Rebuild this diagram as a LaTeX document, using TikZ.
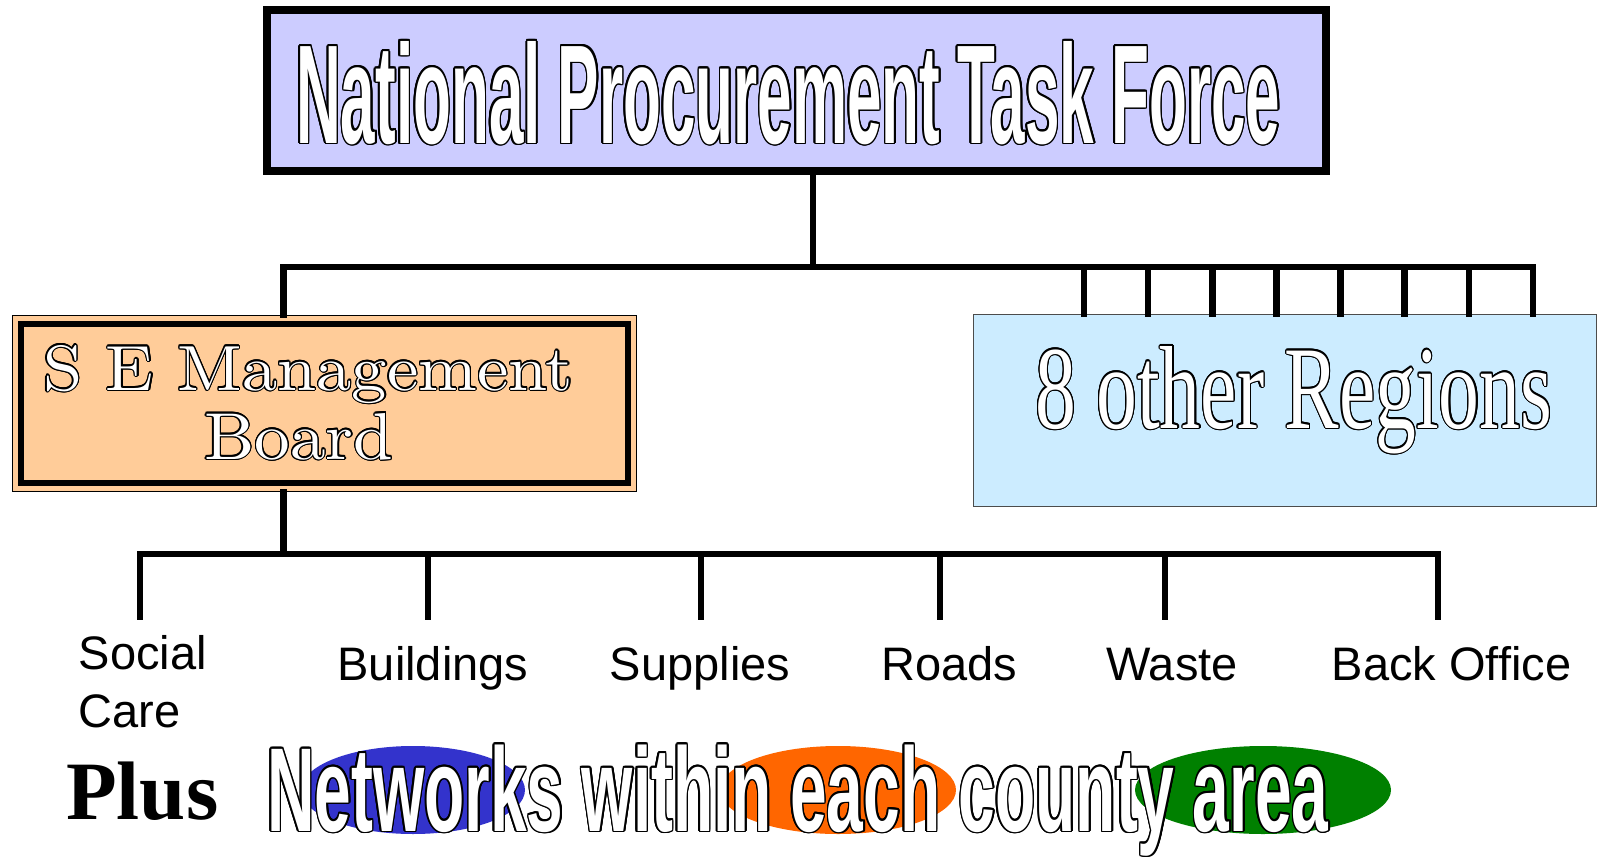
\documentclass[tikz,border=0pt]{standalone}
\usepackage{fontspec}
\usepackage{graphicx}
\usepackage{contour}
\usetikzlibrary{shapes.geometric}
\newfontfamily\arialfont{Liberation Sans}
\newfontfamily\timesfont{Liberation Serif}
\definecolor{boxlilac}{HTML}{CCCCFF}
\definecolor{boxpeach}{HTML}{FFCC99}
\definecolor{boxsky}{HTML}{CCECFF}
\definecolor{ovblue}{HTML}{3333CC}
\definecolor{ovorange}{HTML}{FF6600}
\definecolor{ovgreen}{HTML}{008000}
\newcommand\outlined[2][1.6pt]{{\contourlength{#1}\textcolor{white}{\contour{black}{#2}}}}
\begin{document}
\begin{tikzpicture}[x=1pt,y=-1pt,
   wire/.style={line width=6.5pt,line cap=rect},
   txt/.style={inner sep=0pt,anchor=base west},
   lbl/.style={inner sep=0pt,anchor=base,font=\arialfont\fontsize{47}{58}\selectfont},
   blob/.style={ellipse,inner sep=0pt,minimum width=#1,minimum height=88}]
   \useasboundingbox (0,0) rectangle (1599,859);
   \node[draw,line width=8pt,fill=boxlilac,minimum width=1059,minimum height=161] (NPTF) at (796.5,90.5) {};
   \node[txt] (NPTFtxt) at (296,143) {\outlined{\resizebox{984pt}{102pt}{\arialfont\bfseries National Procurement Task Force}}};
   \node[draw,line width=1.2pt,fill=boxpeach,minimum width=624,minimum height=176] (SEMB) at (324.5,403.5) {};
   \draw[line width=6.5pt] ([shift={(9,9)}]SEMB.north west) rectangle ([shift={(-9,-9)}]SEMB.south east);
   \node[txt] (SEMB1) at (43,390) {\outlined[1.2pt]{\resizebox{530pt}{45pt}{S E Management}}};
   \node[txt] (SEMB2) at (204,459) {\outlined[1.2pt]{\resizebox{189pt}{46pt}{Board}}};
   \node[draw=black!70,line width=1.2pt,fill=boxsky,minimum width=623,minimum height=192] (REG) at (1285,410.5) {};
   \node[txt] (REGtxt) at (1035,428) {\outlined[1.2pt]{\resizebox{517pt}{82pt}{\timesfont 8 other Regions}}};
   \coordinate (T) at (813,267);
   \coordinate (HL) at (283.5,267);
   \coordinate (HR) at (1533,267);
   \draw[wire] (T |- NPTF.south) -- (T);
   \draw[wire] (HL |- SEMB.north) -- (HL) -- (HR);
   \foreach \i in {0,...,7} {
      \coordinate (R\i) at ({1533-64.14*\i},267);
      \draw[wire] (R\i) -- (R\i |- REG.north);
   }
   \coordinate (BL) at (140,554);
   \coordinate (BR) at (1438,554);
   \draw[wire] (HL |- SEMB.south) -- (HL |- BL);
   \draw[wire] (BL) -- (BR);
   \foreach \x/\n in {140/soc,428/bld,701/sup,940/rds,1165/wst,1438/bko} {
      \coordinate (\n) at (\x,617);
      \draw[wire] (\n |- BL) -- (\n);
   }
   \node[lbl,anchor=north west,align=left] (SOC) at (78.5,635) {Social\\Care};
   \node[lbl] (BLD) at (433,680) {Buildings};
   \node[lbl] (SUP) at (700,680) {Supplies};
   \node[lbl] (RDS) at (949,680) {Roads};
   \node[lbl] (WST) at (1172,680) {Waste};
   \node[lbl] (BKO) at (1451.5,680) {Back Office};
   \node[txt,font=\timesfont\bfseries\fontsize{83}{90}\selectfont] (PLUS) at (66,819) {Plus};
   \node[blob=224,fill=ovblue] (OV1) at (413,790) {};
   \node[blob=236,fill=ovorange] (OV2) at (838,790) {};
   \node[blob=256,fill=ovgreen] (OV3) at (1263,790) {};
   \node[txt] (NET) at (267,831) {\outlined{\resizebox{1061pt}{86.5pt}{\arialfont\bfseries Networks within each county area}}};
\end{tikzpicture}
\end{document}
